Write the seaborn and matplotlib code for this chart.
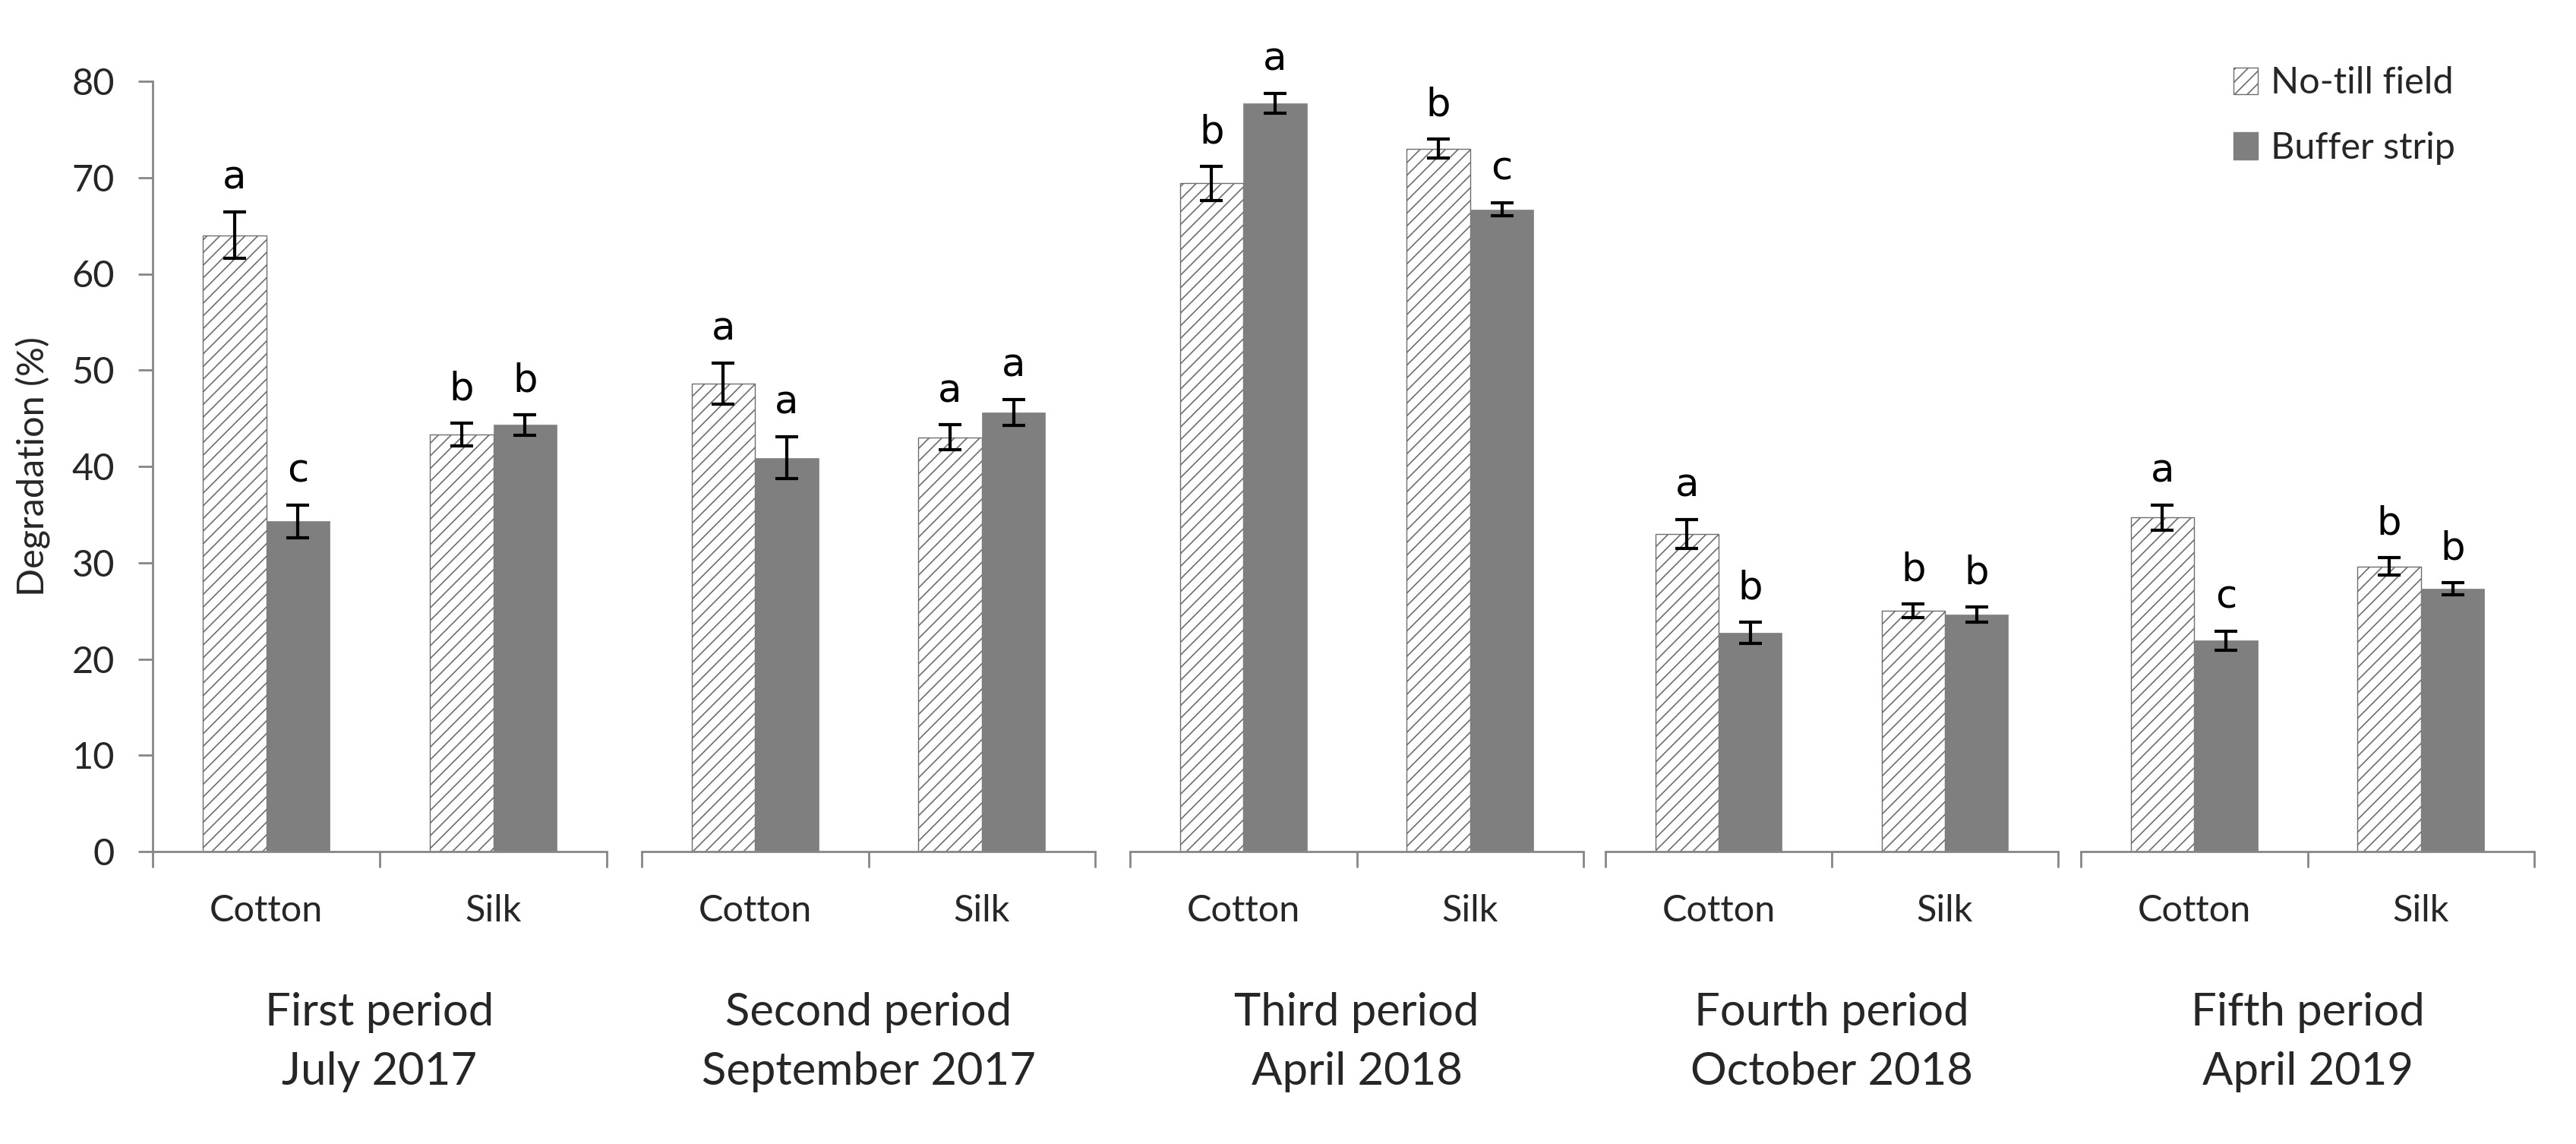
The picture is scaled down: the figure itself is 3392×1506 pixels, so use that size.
import matplotlib
matplotlib.use('Agg')
import matplotlib.pyplot as plt
from matplotlib.patches import Patch
from matplotlib.transforms import blended_transform_factory
import seaborn as sns
import pandas as pd

# ── DATA ──────────────────────────────────────────────────────────
period_names = ['First period', 'Second period', 'Third period', 'Fourth period', 'Fifth period']
period_dates = ['July 2017', 'September 2017', 'April 2018', 'October 2018', 'April 2019']
fabrics = ['Cotton', 'Silk']
fields = ['No-till field', 'Buffer strip']

# values in order: P1 cotton, P1 silk, P2 cotton, P2 silk, ...
notill_mean = [64.0, 43.3, 48.6, 43.0, 69.4, 73.0, 33.0, 25.0, 34.7, 29.6]
notill_err = [2.4, 1.2, 2.1, 1.3, 1.8, 1.0, 1.5, 0.7, 1.3, 0.9]
notill_letters = ['a', 'b', 'a', 'a', 'b', 'b', 'a', 'b', 'a', 'b']

buffer_mean = [34.3, 44.3, 40.9, 45.6, 77.7, 66.7, 22.7, 24.6, 21.9, 27.3]
buffer_err = [1.7, 1.1, 2.2, 1.35, 1.05, 0.7, 1.1, 0.8, 1.0, 0.6]
buffer_letters = ['c', 'b', 'a', 'a', 'a', 'c', 'b', 'b', 'c', 'b']

yticks = [0, 10, 20, 30, 40, 50, 60, 70, 80]

# long table for seaborn
rows = []
for i, p in enumerate(period_names):
    for j, fab in enumerate(fabrics):
        k = i * 2 + j
        rows.append([p, fab, fields[0], notill_mean[k], notill_err[k], notill_letters[k]])
        rows.append([p, fab, fields[1], buffer_mean[k], buffer_err[k], buffer_letters[k]])
df = pd.DataFrame(rows, columns=['period', 'fabric', 'field', 'value', 'err', 'letter'])

# ── STYLE ─────────────────────────────────────────────────────────
sns.set_style('white')
plt.rcParams['font.family'] = ['Lato', 'DejaVu Sans']
plt.rcParams['hatch.linewidth'] = 1.2

axis_grey = '#868686'
bar_grey = '#7f7f7f'
hatch_grey = '#6e6e6e'
palette = {fields[0]: 'white', fields[1]: bar_grey}

W, H = 3392, 1506
fig, axes = plt.subplots(1, 5, figsize=(W / 100, H / 100), dpi=100, sharey=True)

# panel left/right edges in pixels (panels are not evenly spaced in the original)
panel_px = [(201, 799), (845, 1442), (1488, 2085), (2114, 2710), (2740, 3337)]
y0_px, y80_px = 1121, 107

for i, ax in enumerate(axes):
    l, r = panel_px[i]
    ax.set_position([l / W, 1 - y0_px / H, (r - l) / W, (y0_px - y80_px) / H])

    sub = df[df['period'] == period_names[i]]
    sns.barplot(data=sub, x='fabric', y='value', hue='field', order=fabrics,
                hue_order=fields, palette=palette, saturation=1, width=0.56,
                errorbar=None, legend=False, ax=ax)

    # hatch for no-till bars, flat grey for buffer strip
    for bar in ax.containers[0]:
        bar.set_hatch('//')
        bar.set_edgecolor(hatch_grey)
        bar.set_linewidth(1.0)
    for bar in ax.containers[1]:
        bar.set_edgecolor(bar_grey)
        bar.set_linewidth(0.5)

    # error bars and significance letters
    for c, fld in enumerate(fields):
        vals = sub[sub['field'] == fld].set_index('fabric').loc[fabrics]
        xs = [b.get_x() + b.get_width() / 2 for b in ax.containers[c]]
        ax.errorbar(xs, vals['value'], yerr=vals['err'], fmt='none', ecolor='black',
                    elinewidth=3, capsize=11, capthick=3, zorder=5)
        for x, v, e, t in zip(xs, vals['value'], vals['err'], vals['letter']):
            ax.text(x, v + e + 2.4, t, ha='center', va='baseline', fontsize=37,
                    family=['DejaVu Sans'], color='black')

    ax.set_xlim(-0.5, 1.5)
    ax.set_ylim(0, 80)
    ax.set_xlabel('')
    ax.set_ylabel('')

    # category separators as major ticks, labels on minor ticks
    ax.set_xticks([-0.5, 0.5, 1.5])
    ax.set_xticklabels([])
    ax.set_xticks([0, 1], minor=True)
    ax.set_xticklabels(fabrics, minor=True)
    ax.tick_params(axis='x', which='major', direction='out', length=15, width=2,
                   color=axis_grey, bottom=True)
    ax.tick_params(axis='x', which='minor', length=0, pad=40, labelsize=35)

    for s in ['top', 'right']:
        ax.spines[s].set_visible(False)
    ax.spines['bottom'].set_color(axis_grey)
    ax.spines['bottom'].set_linewidth(2)

    tr = blended_transform_factory(ax.transAxes, ax.transAxes)
    ax.text(0.5, -0.2258, period_names[i], transform=tr, ha='center', va='baseline', fontsize=43)
    ax.text(0.5, -0.3028, period_dates[i], transform=tr, ha='center', va='baseline', fontsize=43)

    if i == 0:
        ax.spines['left'].set_color(axis_grey)
        ax.spines['left'].set_linewidth(2)
        ax.set_yticks(yticks)
        ax.tick_params(axis='y', direction='out', length=14, width=2, color=axis_grey,
                       left=True, pad=22, labelsize=35)
        ax.set_ylabel('Degradation (%)', fontsize=35, labelpad=20)
    else:
        ax.spines['left'].set_visible(False)
        ax.tick_params(axis='y', left=False, labelleft=False)

handles = [Patch(facecolor='white', edgecolor=hatch_grey, hatch='//', linewidth=1.0, label=fields[0]),
           Patch(facecolor=bar_grey, edgecolor=bar_grey, label=fields[1])]
fig.legend(handles=handles, loc='upper left', bbox_to_anchor=(0.867, 0.942), frameon=False,
           fontsize=35, handlelength=0.66, handleheight=0.75, handletextpad=0.35,
           labelspacing=0.85, borderpad=0, borderaxespad=0)

fig.savefig('out.png', dpi=100, facecolor='white')
